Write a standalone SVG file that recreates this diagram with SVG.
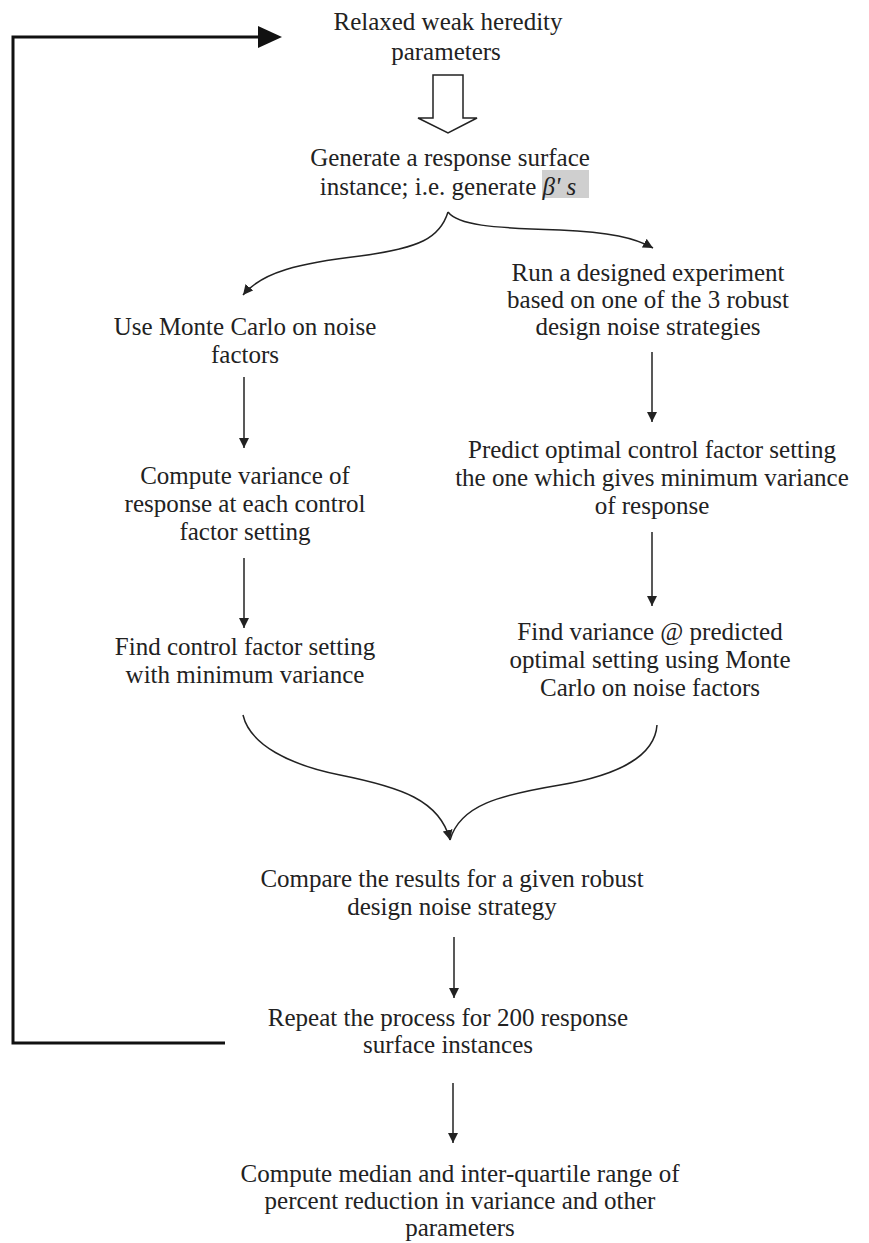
<svg xmlns="http://www.w3.org/2000/svg" width="869" height="1243" viewBox="0 0 869 1243">
<style>
text{font-family:"Liberation Serif","Times New Roman",serif;font-size:25px;fill:#222;text-anchor:middle}
.l{fill:none;stroke:#222;stroke-width:1.5}
.loop{fill:none;stroke:#111;stroke-width:3}
</style>
<defs>
<marker id="ah" viewBox="0 0 10 10" refX="10" refY="5" markerWidth="10" markerHeight="10" markerUnits="userSpaceOnUse" orient="auto"><path d="M0,0L10,5L0,10z" fill="#222"/></marker>
</defs>
<g id="connectors">
<polyline class="loop" points="225,1043 13,1043 13,37 262,37"/>
<path d="M258,26 L282,37 L258,48z" fill="#111"/>
<path d="M433,75 H463 V118 H477 L448,133 L418,118 H433 Z" fill="#fff" stroke="#222" stroke-width="1.5"/>
<path class="l" d="M448,212 C440,238 420,248 360,256 C300,263 262,272 243,295" marker-end="url(#ah)"/>
<path class="l" d="M448,212 C458,225 490,228 560,230 C610,232 635,238 653,248" marker-end="url(#ah)"/>
<line class="l" x1="244" y1="377" x2="244" y2="448" marker-end="url(#ah)"/>
<line class="l" x1="244" y1="558" x2="244" y2="628" marker-end="url(#ah)"/>
<line class="l" x1="652" y1="352" x2="652" y2="422" marker-end="url(#ah)"/>
<line class="l" x1="652" y1="532" x2="652" y2="606" marker-end="url(#ah)"/>
<path class="l" d="M243,715 C250,745 290,765 340,775 C400,787 440,800 450,840" marker-end="url(#ah)"/>
<path class="l" d="M657,725 C655,755 620,775 560,785 C500,795 460,805 450,840"/>
<line class="l" x1="454" y1="937" x2="454" y2="998" marker-end="url(#ah)"/>
<line class="l" x1="453" y1="1083" x2="453" y2="1143" marker-end="url(#ah)"/>
</g>
<g id="n1"><text x="448" y="30">Relaxed weak heredity</text><text x="446" y="60">parameters</text></g>
<g id="n2"><rect x="542" y="170" width="47" height="28" fill="#cfcfcf"/><text x="450" y="166">Generate a response surface</text><text x="448" y="195">instance; i.e. generate <tspan font-style="italic">β' s</tspan></text></g>
<g id="n3"><text x="245" y="335">Use Monte Carlo on noise</text><text x="245" y="363">factors</text></g>
<g id="n4"><text x="245" y="484">Compute variance of</text><text x="245" y="512">response at each control</text><text x="245" y="540">factor setting</text></g>
<g id="n5"><text x="245" y="655">Find control factor setting</text><text x="245" y="683">with minimum variance</text></g>
<g id="n6"><text x="648" y="281">Run a designed experiment</text><text x="648" y="308">based on one of the 3 robust</text><text x="648" y="335">design noise strategies</text></g>
<g id="n7"><text x="652" y="458">Predict optimal control factor setting</text><text x="652" y="486">the one which gives minimum variance</text><text x="652" y="514">of response</text></g>
<g id="n8"><text x="650" y="640">Find variance @ predicted</text><text x="650" y="668">optimal setting using Monte</text><text x="650" y="696">Carlo on noise factors</text></g>
<g id="n9"><text x="452" y="887">Compare the results for a given robust</text><text x="452" y="915">design noise strategy</text></g>
<g id="n10"><text x="448" y="1026">Repeat the process for 200 response</text><text x="448" y="1053">surface instances</text></g>
<g id="n11"><text x="460" y="1182">Compute median and inter-quartile range of</text><text x="460" y="1209">percent reduction in variance and other</text><text x="460" y="1236">parameters</text></g>
</svg>
